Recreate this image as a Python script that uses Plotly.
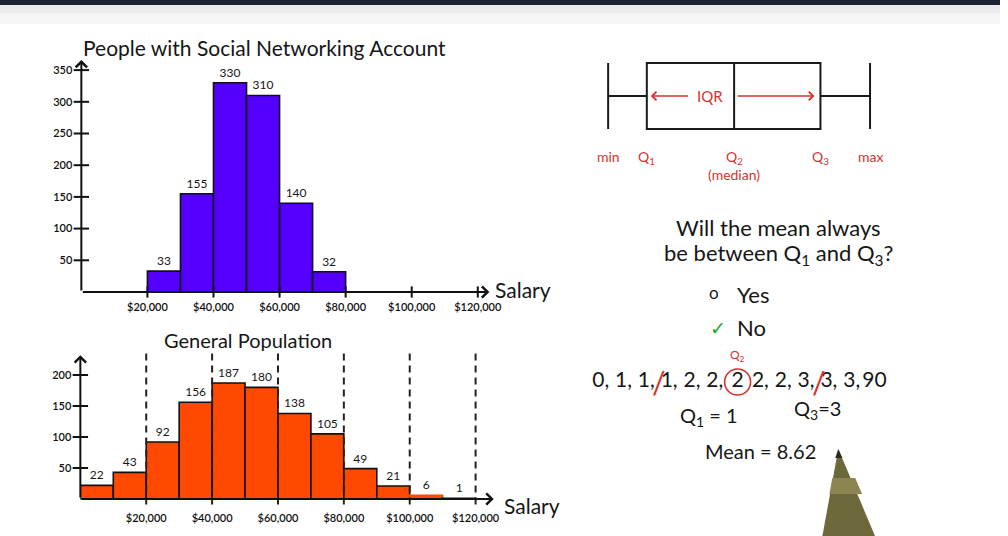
import numpy as np
import plotly.graph_objects as go

W, H = 1008, 536
def X(px): return px / W
def Y(py): return 1 - py / H

# ---------------- data ----------------
social_bins = [20, 30, 40, 50, 60, 70]            # bin start, $ thousands
social_counts = [33, 155, 330, 310, 140, 32]
general_bins = [0, 10, 20, 30, 40, 50, 60, 70, 80, 90, 100, 110]
general_counts = [22, 43, 92, 156, 187, 180, 138, 105, 49, 21, 6, 1]
bin_width = 10
salary_ticks = [20, 40, 60, 80, 100, 120]
salary_tick_labels = ["$20,000", "$40,000", "$60,000", "$80,000", "$100,000", "$120,000"]
top_y_ticks = [50, 100, 150, 200, 250, 300, 350]
bottom_y_ticks = [50, 100, 150, 200]
box_labels = ["min", "Q<sub>1</sub>", "Q<sub>2</sub>", "Q<sub>3</sub>", "max"]
box_values = [0, 3.9, 12.7, 21.4, 26.4]          # schematic positions
example_data = [0, 1, 1, 1, 2, 2, 2, 2, 2, 3, 3, 3, 90]

FONT = "Lato, 'DejaVu Sans', sans-serif"
INK = "#161616"
RED = "#d8322c"
PURPLE = "#5500ff"
ORANGE = "#ff4800"

fig = go.Figure()

# ---------- bottom chart dashed guide lines ----------
for t in salary_ticks:
    fig.add_trace(go.Scatter(x=[t, t], y=[-9, 240], mode="lines",
                             line=dict(color="#222", width=2, dash="7px,5px"),
                             xaxis="x2", yaxis="y2", hoverinfo="skip"))

# ---------- top histogram ----------
fig.add_trace(go.Bar(x=[b + bin_width / 2 for b in social_bins], y=social_counts,
                     width=bin_width, marker=dict(color=PURPLE, line=dict(color="#111", width=1.6)),
                     text=social_counts, textposition="outside", cliponaxis=False,
                     textfont=dict(family=FONT, size=12, color=INK),
                     xaxis="x", yaxis="y", hoverinfo="skip"))

# ---------- bottom histogram ----------
line_cols = ["#111"] * len(general_counts)
line_cols[10] = ORANGE
fig.add_trace(go.Bar(x=[b + bin_width / 2 for b in general_bins], y=general_counts,
                     width=bin_width, marker=dict(color=ORANGE, line=dict(color=line_cols, width=1.6)),
                     text=general_counts, textposition="outside", cliponaxis=False,
                     textfont=dict(family=FONT, size=12, color=INK),
                     xaxis="x2", yaxis="y2", hoverinfo="skip"))

# crossing tick marks
fig.add_trace(go.Scatter(x=[0] * len(top_y_ticks), y=top_y_ticks, mode="markers", cliponaxis=False,
                         marker=dict(symbol="line-ew", size=11, color="#111", line=dict(width=2, color="#111")),
                         xaxis="x", yaxis="y", hoverinfo="skip"))
fig.add_trace(go.Scatter(x=salary_ticks, y=[0] * len(salary_ticks), mode="markers", cliponaxis=False,
                         marker=dict(symbol="line-ns", size=8, color="#111", line=dict(width=2, color="#111")),
                         xaxis="x", yaxis="y", hoverinfo="skip"))
fig.add_trace(go.Scatter(x=[0] * len(bottom_y_ticks), y=bottom_y_ticks, mode="markers", cliponaxis=False,
                         marker=dict(symbol="line-ew", size=11, color="#111", line=dict(width=2, color="#111")),
                         xaxis="x2", yaxis="y2", hoverinfo="skip"))

# ---------- box plot schematic ----------
fig.add_trace(go.Box(y=[0], q1=[box_values[1]], median=[box_values[2]], q3=[box_values[3]],
                     lowerfence=[box_values[0]], upperfence=[box_values[4]],
                     orientation="h", width=1, whiskerwidth=1, boxpoints=False,
                     fillcolor="rgba(255,255,255,0)", line=dict(color="#1a1a1a", width=2),
                     xaxis="x3", yaxis="y3", hoverinfo="skip"))

# ---------- example data row ----------
n = len(example_data)
med_idx = n // 2
row_text = []
for i, v in enumerate(example_data):
    s = str(v)
    if i < n - 1 and i != med_idx:
        s += ","
    row_text.append(s)
fig.add_trace(go.Scatter(x=list(range(n)), y=[0] * n, mode="text", text=row_text,
                         textfont=dict(family=FONT, size=21, color=INK), cliponaxis=False,
                         xaxis="x4", yaxis="y4", hoverinfo="skip"))
fig.add_trace(go.Scatter(x=[med_idx], y=[0], mode="markers", cliponaxis=False,
                         marker=dict(symbol="circle-open", size=26, color=RED, line=dict(width=1.6, color=RED)),
                         xaxis="x4", yaxis="y4", hoverinfo="skip"))

q1 = float(np.percentile(example_data, 25))
q3 = float(np.percentile(example_data, 75))
mean = float(np.mean(example_data))

ann = []
def txt(x, y, s, size=20, color=INK, xanchor="center", **kw):
    d = dict(x=x, y=y, xref="paper", yref="paper", text=s, showarrow=False,
             xanchor=xanchor, yanchor="middle", font=dict(family=FONT, size=size, color=color))
    d.update(kw)
    ann.append(d)

# axis arrows
def arrow(xr, yr, x, y, ax, ay, color="#111", width=2, head=4, size=1.1):
    ann.append(dict(xref=xr, yref=yr, axref=xr, ayref=yr, x=x, y=y, ax=ax, ay=ay, text="",
                    showarrow=True, arrowhead=head, arrowsize=size, arrowwidth=width, arrowcolor=color))

arrow("x", "y", 0, 366, 0, 0)
arrow("x", "y", 123.5, 0, 0, 0)
arrow("x2", "y2", 0, 232, 0, 0)
arrow("x2", "y2", 125.5, 0, 0, 0)

# titles and labels
txt(X(82), Y(47), "People with Social Networking Account", size=21, xanchor="left")
txt(X(250), Y(340), "General Population", size=20)
txt(X(497), Y(289), "Salary", size=21, xanchor="left")
txt(X(506), Y(505), "Salary", size=21, xanchor="left")

# box labels
for lab, v in zip(box_labels, box_values):
    ann.append(dict(x=v, y=Y(146), xref="x3", yref="paper", text=lab, showarrow=False,
                    font=dict(family=FONT, size=14, color=RED)))
ann.append(dict(x=box_values[2], y=Y(164), xref="x3", yref="paper", text="(median)", showarrow=False,
                font=dict(family=FONT, size=14, color=RED)))
ann.append(dict(x=10.3, y=0, xref="x3", yref="y3", text="IQR", showarrow=False,
                font=dict(family=FONT, size=15, color=RED)))
arrow("x3", "y3", box_values[1] + 0.4, 0, 8.2, 0, color=RED, width=1.4, head=4, size=1.2)
arrow("x3", "y3", box_values[3] - 0.6, 0, box_values[2] + 0.2, 0, color=RED, width=1.4, head=4, size=1.2)

# question text
txt(X(785), Y(227), "Will the mean always", size=22)
txt(X(785), Y(254), "be between Q<sub>1</sub> and Q<sub>3</sub>?", size=22)
txt(X(720), Y(292), "o", size=17, xanchor="center")
txt(X(741), Y(294), "Yes", size=22, xanchor="left")
txt(X(724), Y(327), "✓", size=19, color="#22a722", xanchor="center")
txt(X(741), Y(327), "No", size=22, xanchor="left")

# example row annotations
ann.append(dict(x=med_idx, y=Y(355), xref="x4", yref="paper", text="Q<sub>2</sub>", showarrow=False,
                font=dict(family=FONT, size=12, color=RED)))
for pos in [n // 4 - 0.45, n - n // 4 - 0.45]:
    ann.append(dict(x=pos, y=0, xref="x4", yref="y4", text="/", showarrow=False,
                    font=dict(family=FONT, size=30, color=RED)))
txt(X(715), Y(416), f"Q<sub>1</sub> = {q1:g}", size=20)
txt(X(824), Y(409), f"Q<sub>3</sub>={q3:g}", size=20)
txt(X(767), Y(451), f"Mean = {mean:.2f}", size=20)

# ---------- decorative shapes ----------
shapes = [
    dict(type="rect", xref="paper", yref="paper", x0=0, x1=1, y0=Y(5), y1=1,
         fillcolor="#1d2433", line=dict(width=0), layer="above"),
    dict(type="rect", xref="paper", yref="paper", x0=0, x1=1, y0=Y(13), y1=Y(5),
         fillcolor="#ececec", line=dict(width=0), layer="below"),
    dict(type="rect", xref="paper", yref="paper", x0=0, x1=1, y0=Y(24), y1=Y(13),
         fillcolor="#f5f5f5", line=dict(width=0), layer="below"),
]
def path(pts):
    return "M " + " L ".join(f"{X(a):.4f},{Y(b):.4f}" for a, b in pts) + " Z"
shapes.append(dict(type="path", xref="paper", yref="paper",
                   path=path([(845, 449), (829, 536), (882, 536)]),
                   fillcolor="#6d683a", line=dict(width=0), layer="above"))
shapes.append(dict(type="path", xref="paper", yref="paper",
                   path=path([(839, 478), (836, 494), (869, 494), (862, 478)]),
                   fillcolor="#8c8552", line=dict(width=0), layer="above"))
shapes.append(dict(type="path", xref="paper", yref="paper",
                   path=path([(845, 449), (842, 458), (849, 458)]),
                   fillcolor="#2c2a1c", line=dict(width=0), layer="above"))

tickfont = dict(family=FONT, size=11, color="#111", weight=600)
common_x = dict(showgrid=False, zeroline=False, showline=False, ticks="", tickfont=tickfont)
common_y = dict(showgrid=False, zeroline=False, showline=False, ticks="", tickfont=tickfont,
                ticklabelstandoff=8)

fig.update_layout(
    width=W, height=H, margin=dict(l=0, r=0, t=0, b=0),
    paper_bgcolor="white", plot_bgcolor="rgba(0,0,0,0)", showlegend=False,
    font=dict(family=FONT, color=INK),
    xaxis=dict(domain=[X(82), X(82 + 3.33 * 125)], range=[0, 125], anchor="y",
               tickvals=salary_ticks, ticktext=salary_tick_labels, ticklabelstandoff=4, **common_x),
    yaxis=dict(domain=[Y(292 + 4 * 0.634), Y(292 - 370 * 0.634)], range=[-4, 370], anchor="x",
               tickvals=top_y_ticks, **common_y),
    xaxis2=dict(domain=[X(81), X(81 + 3.32 * 126)], range=[0, 126], anchor="y2",
                tickvals=salary_ticks, ticktext=salary_tick_labels, ticklabelstandoff=4, **common_x),
    yaxis2=dict(domain=[Y(499 + 12 * 0.62), Y(499 - 242 * 0.62)], range=[-12, 242], anchor="x2",
                tickvals=bottom_y_ticks, **common_y),
    xaxis3=dict(domain=[X(603), X(887)], range=[-1, 27.4], anchor="y3", visible=False),
    yaxis3=dict(domain=[Y(132.3), Y(59.7)], range=[-0.55, 0.55], anchor="x3", visible=False),
    xaxis4=dict(domain=[X(594), X(893)], range=[-0.5, 12.5], anchor="y4", visible=False),
    yaxis4=dict(domain=[Y(395), Y(369)], range=[-1, 1], anchor="x4", visible=False),
    annotations=ann, shapes=shapes,
)

fig.write_html("out.html", config={"displayModeBar": False},
               post_script="document.body.style.margin='0';document.body.style.overflow='hidden';")
